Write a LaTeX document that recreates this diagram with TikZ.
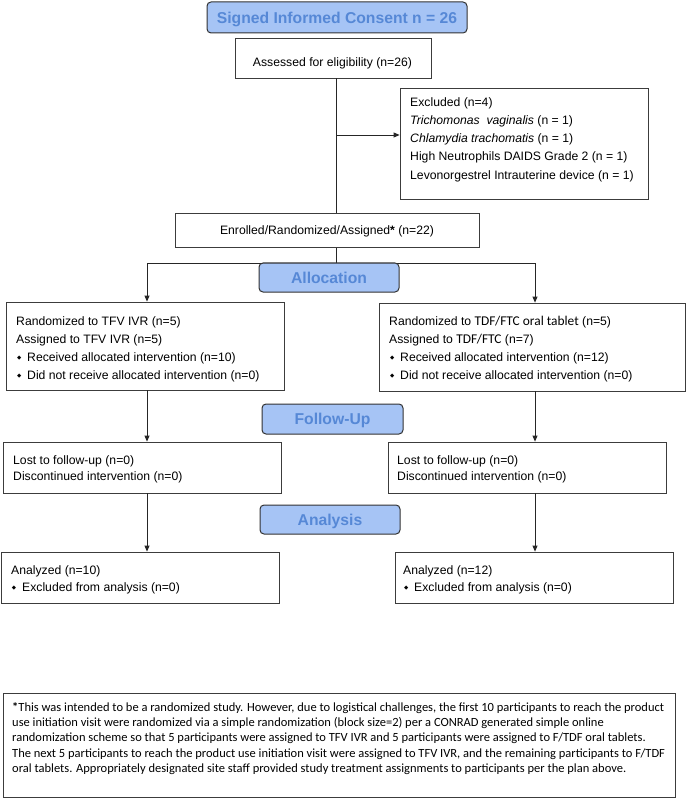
\documentclass[tikz,border=0pt]{standalone}
\usepackage{fontspec}
\setmainfont{Liberation Sans}
\newfontfamily\calfont{Carlito}
\newfontfamily\symfont{DejaVu Sans}
\usetikzlibrary{arrows.meta}
\definecolor{bfill}{RGB}{166,196,245}
\definecolor{btext}{RGB}{86,136,214}
\definecolor{bline}{RGB}{60,60,60}
\definecolor{bbord}{RGB}{50,50,50}
\newcommand{\bul}{\makebox[11pt][l]{\hspace{0.8pt}\raisebox{1.6pt}{\symfont\fontsize{5.5}{5.5}\selectfont ◆}}}
\newcommand{\calitxt}[1]{{\calfont\fontsize{13.4}{13.4}\selectfont #1}}
\begin{document}
\begin{tikzpicture}[x=1pt,y=-1pt,
  box/.style={draw=bline, line width=0.8pt, inner sep=0pt, rectangle},
  bluebox/.style={draw=bbord, line width=1pt, fill=bfill, rounded corners=4pt, inner sep=0pt,
    text=btext, font=\fontsize{15.7}{16}\selectfont\bfseries, text height=11.3pt, text depth=0pt},
  txt/.style={inner sep=0pt, anchor=west, align=left, font=\fontsize{12.2}{18}\selectfont},
  conn/.style={draw=black!85, line width=0.8pt},
  arr/.style={conn, -{Triangle[length=6pt,width=5pt]}}]
\useasboundingbox (0,0) rectangle (687,799);

% top
\node[bluebox, minimum width=260pt, minimum height=31pt] (consent) at (337,17.5) {Signed Informed Consent n = 26};
\node[box, minimum width=196pt, minimum height=40pt] (assess) at (333,58) {};
\node[txt, anchor=center, text height=8.8pt, text depth=0pt] (asstxt) at (332.5,61.7) {Assessed for eligibility (n=26)};

\node[box, minimum width=248pt, minimum height=111pt] (excl) at (524,143.5) {};
\node[txt, font=\fontsize{12.2}{18.25}\selectfont] (excltxt) at (410,139.5)
  {Excluded (n=4)\\ \textit{Trichomonas\ \ vaginalis} (n = 1)\\ \textit{Chlamydia trachomatis} (n = 1)\\
   High Neutrophils DAIDS Grade 2 (n = 1)\\ Levonorgestrel Intrauterine device (n = 1)};

\node[box, minimum width=304pt, minimum height=34pt, font=\fontsize{12.2}{14}\selectfont,
  text height=8.8pt, text depth=0pt] (enrol) at (327,230.5) {Enrolled/Randomized/Assigned\textbf{*} (n=22)};

% allocation boxes
\node[box, minimum width=278pt, minimum height=88pt] (allocL) at (145,346) {};
\node[txt] (allocLtxt) at (16,349)
  {Randomized to TFV IVR (n=5)\\ Assigned to TFV IVR (n=5)\\ \bul Received allocated intervention (n=10)\\
   \bul Did not receive allocated intervention (n=0)};
\node[box, minimum width=306pt, minimum height=88pt] (allocR) at (532,347) {};
\node[txt] (allocRtxt) at (389,349)
  {Randomized to \calitxt{TDF/FTC oral tablet} (n=5)\\ Assigned to \calitxt{TDF/FTC} (n=7)\\
   \bul Received allocated intervention (n=12)\\ \bul Did not receive allocated intervention (n=0)};

% follow-up boxes
\node[box, minimum width=278pt, minimum height=51pt] (followL) at (142,467.5) {};
\node[txt, font=\fontsize{12.2}{16}\selectfont] (followLtxt) at (13,469)
  {Lost to follow-up (n=0)\\ Discontinued intervention (n=0)};
\node[box, minimum width=278pt, minimum height=51pt] (followR) at (527,467.5) {};
\node[txt, font=\fontsize{12.2}{16}\selectfont] (followRtxt) at (397,469)
  {Lost to follow-up (n=0)\\ Discontinued intervention (n=0)};

% analysis boxes
\node[box, minimum width=278pt, minimum height=51pt] (anaL) at (140,577.5) {};
\node[txt, font=\fontsize{12.2}{17}\selectfont] (anaLtxt) at (11,579.5)
  {Analyzed (n=10)\\ \bul Excluded from analysis (n=0)};
\node[box, minimum width=278pt, minimum height=51pt] (anaR) at (534,577.5) {};
\node[txt, font=\fontsize{12.2}{17}\selectfont] (anaRtxt) at (403,579.5)
  {Analyzed (n=12)\\ \bul Excluded from analysis (n=0)};

% footnote
\node[box, minimum width=672pt, minimum height=104pt] (note) at (339,745) {};
\node[txt, font=\calfont\fontsize{12.5}{15.25}\selectfont] (notetxt) at (12,738.5)
  {\textbf{*}This was intended to be a randomized study. However, due to logistical challenges, the first 10 participants to reach the product\\
   use initiation visit were randomized via a simple randomization (block size=2) per a CONRAD generated simple online\\
   randomization scheme so that 5 participants were assigned to TFV IVR and 5 participants were assigned to F/TDF oral tablets.\\
   The next 5 participants to reach the product use initiation visit were assigned to TFV IVR, and the remaining participants to F/TDF\\
   oral tablets. Appropriately designated site staff provided study treatment assignments to participants per the plan above.};

% connectors
\coordinate (trunk) at (336,0);
\coordinate (exa) at (336,135);
\coordinate (split) at (336,263);
\coordinate (sl) at (147,263);
\coordinate (sr) at (535,263);
\draw[conn] (assess.south -| trunk) -- (enrol.north -| trunk);
\draw[arr] (exa) -- (exa -| excl.west);
\draw[conn] (enrol.south -| trunk) -- (split);
\draw[conn] (sl) -- (sr);
\draw[arr] (sl) -- (sl |- allocL.north);
\draw[arr] (sr) -- (sr |- allocR.north);
\draw[arr] (allocL.south -| sl) -- (followL.north -| sl);
\draw[arr] (allocR.south -| sr) -- (followR.north -| sr);
\draw[arr] (followL.south -| sl) -- (anaL.north -| sl);
\draw[arr] (followR.south -| sr) -- (anaR.north -| sr);

% stage labels
\node[bluebox, minimum width=140pt, minimum height=29pt] (alloc) at (329,277.5) {Allocation};
\node[bluebox, minimum width=141pt, minimum height=30pt] (fu) at (332.5,419) {Follow-Up};
\node[bluebox, minimum width=140pt, minimum height=29pt] (an) at (330,519.5) {Analysis};
\end{tikzpicture}
\end{document}
